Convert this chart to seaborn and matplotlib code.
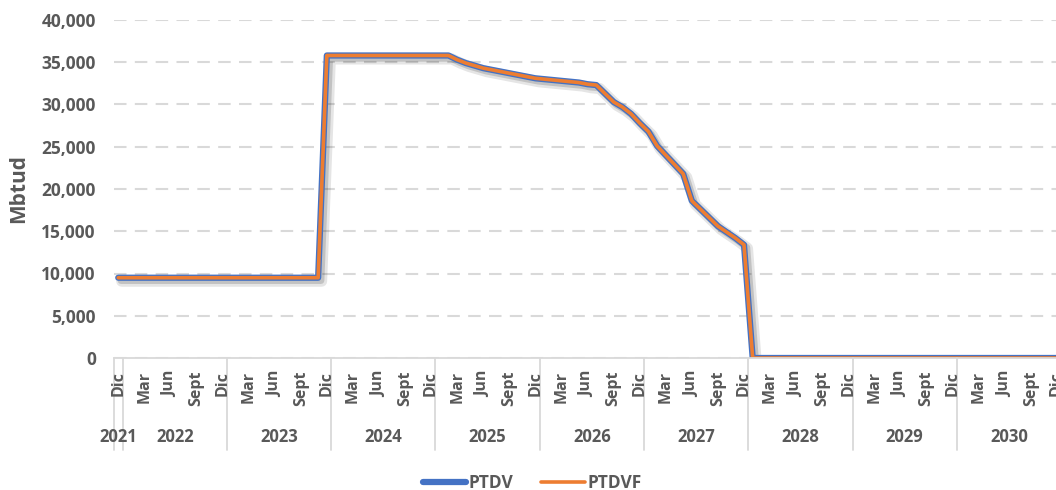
import matplotlib
matplotlib.use("Agg")
import matplotlib.pyplot as plt
import matplotlib.patheffects as pe
from matplotlib.lines import Line2D
from matplotlib.ticker import FuncFormatter
import seaborn as sns
import pandas as pd

# ---------------- data ----------------
years = ["2021", "2022", "2023", "2024", "2025", "2026", "2027", "2028", "2029", "2030"]
month_abbr = ["Ene", "Feb", "Mar", "Abr", "May", "Jun", "Jul", "Ago", "Sept", "Oct", "Nov", "Dic"]
shown_months = ["Mar", "Jun", "Sept", "Dic"]

# monthly values, Dec 2021 .. Dec 2030 (Mbtud)
ptdv = [
    9500, 9500, 9500, 9500, 9500, 9500, 9500, 9500, 9500, 9500, 9500, 9500,
    9500, 9500, 9500, 9500, 9500, 9500, 9500, 9500, 9500, 9500, 9500, 9500,
    35800, 35800, 35800, 35800, 35800, 35800, 35800, 35800, 35800, 35800, 35800, 35800,
    35800, 35800, 35800, 35300, 34900, 34600, 34300, 34100, 33900, 33700, 33500, 33300,
    33100, 33000, 32900, 32800, 32700, 32600, 32400, 32300, 31300, 30300, 29700, 28900,
    27800, 26800, 25100, 24000, 22900, 21800, 18600, 17600, 16600, 15600, 14900, 14200,
    13400, 0, 0, 0, 0, 0, 0, 0, 0, 0, 0, 0,
    0, 0, 0, 0, 0, 0, 0, 0, 0, 0, 0, 0,
    0, 0, 0, 0, 0, 0, 0, 0, 0, 0, 0, 0,
    0,
]
ptdvf = list(ptdv)

# category labels (Dec 2021 then every month of 2022..2030)
cat_month = ["Dic"] + [m for _ in years[1:] for m in month_abbr]
cat_year = ["2021"] + [y for y in years[1:] for _ in month_abbr]

df = pd.DataFrame({
    "idx": list(range(len(ptdv))) * 2,
    "value": ptdv + ptdvf,
    "serie": ["PTDV"] * len(ptdv) + ["PTDVF"] * len(ptdvf),
})

# ---------------- style ----------------
sns.set_theme(style="white")
plt.rcParams["font.family"] = ["Open Sans", "DejaVu Sans"]
txt = "#595959"
grid_c = "#D9D9D9"
blue = "#4472C4"
orange = "#ED7D31"

fig = plt.figure(figsize=(10.56, 4.9), dpi=100)
ax = fig.add_axes([113.9 / 1056, 1 - 358 / 490, 1 - 113.9 / 1056, (358 - 20) / 490])

shadow = [
    pe.SimpleLineShadow(offset=(2.5, -2.5), shadow_color="black", alpha=0.10, linewidth=8),
    pe.SimpleLineShadow(offset=(2, -2), shadow_color="black", alpha=0.15, linewidth=5),
    pe.Normal(),
]

sns.lineplot(data=df[df.serie == "PTDV"], x="idx", y="value", color=blue, linewidth=4.5, ax=ax, legend=False)
sns.lineplot(data=df[df.serie == "PTDVF"], x="idx", y="value", color=orange, linewidth=2.6, ax=ax, legend=False)
ax.lines[0].set_path_effects(shadow)

ax.set_xlim(-0.5, 107.9)
ax.set_ylim(0, 40000)
ax.set_yticks(range(0, 40001, 5000))
ax.yaxis.set_major_formatter(FuncFormatter(lambda v, p: f"{int(v):,}"))
ax.tick_params(axis="y", length=0, pad=13, labelsize=12.5, labelcolor=txt)
for lab in ax.get_yticklabels():
    lab.set_fontweight("bold")
ax.set_xticks([])
ax.set_xlabel("")
ax.set_ylabel("Mbtud", fontsize=15, fontweight="bold", color=txt)
ax.yaxis.set_label_coords(-0.0905, 0.5)

ax.grid(axis="y", color=grid_c, linestyle=(0, (6, 4)), linewidth=1.5)
ax.set_axisbelow(True)
for s in ["left", "right", "top"]:
    ax.spines[s].set_visible(False)
ax.spines["bottom"].set_color(grid_c)
ax.spines["bottom"].set_linewidth(1.3)

# multi-level category axis
trans = ax.get_xaxis_transform()
ax_h = 358 - 20
for i, m in enumerate(cat_month):
    if m in shown_months:
        ax.text(i, -13 / ax_h, m, rotation=90, ha="center", va="top", fontsize=11.5,
                fontweight="bold", color=txt, transform=trans, clip_on=False)

# year group labels and separators
bounds = [-0.5, 0.5] + [0.5 + 12 * k for k in range(1, 9)]
for b in bounds:
    ax.plot([b, b], [0, -92 / ax_h], color=grid_c, linewidth=1.3, transform=trans, clip_on=False)
for y in years:
    pos = [i for i, cy in enumerate(cat_year) if cy == y]
    center = (pos[0] + pos[-1]) / 2
    ax.text(center, -79 / ax_h, y, ha="center", va="center", fontsize=12,
            fontweight="bold", color=txt, transform=trans, clip_on=False)

handles = [Line2D([], [], color=blue, linewidth=4.5), Line2D([], [], color=orange, linewidth=2.6)]
fig.legend(handles, ["PTDV", "PTDVF"], loc="center", bbox_to_anchor=(532 / 1056, 1 - 483 / 490),
           ncol=2, frameon=False, handlelength=2.5, handletextpad=0.15, columnspacing=1.6,
           prop={"size": 12.5, "weight": "bold"}, labelcolor=txt)

fig.savefig("out.png", dpi=100)
